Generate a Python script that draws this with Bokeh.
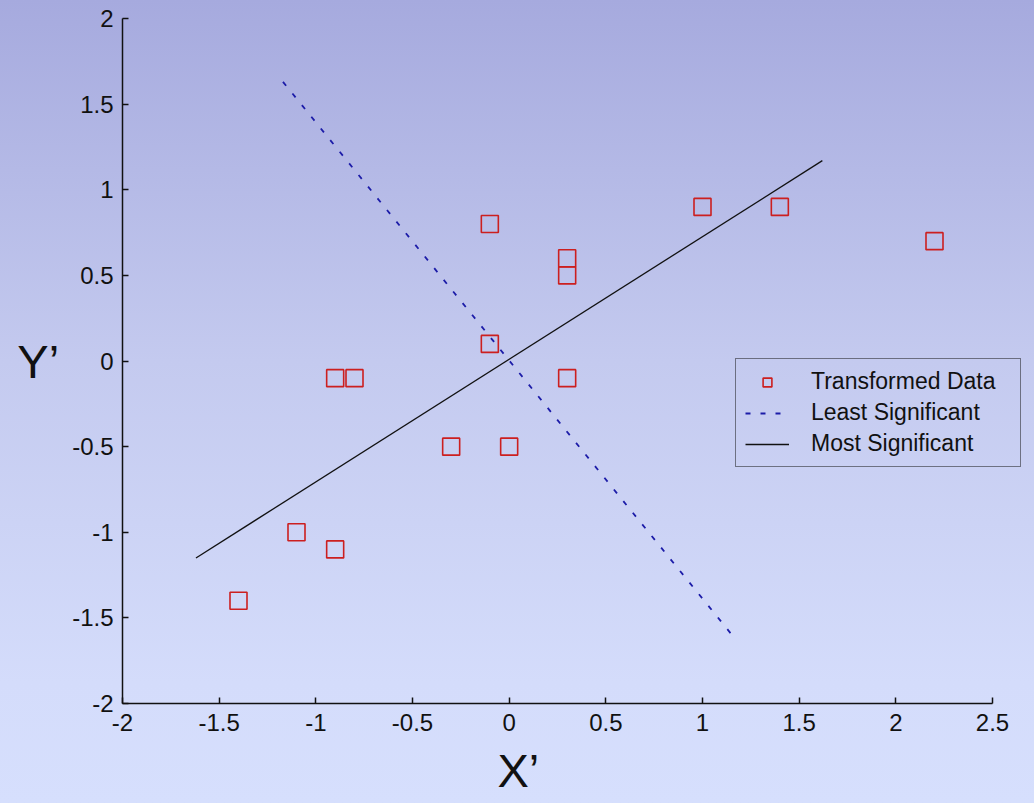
from bokeh.plotting import figure
from bokeh.models import ColumnDataSource, FixedTicker, Legend, LegendItem, Title
from bokeh.embed import file_html
from bokeh.resources import INLINE

# Transformed data points
data_x = [-1.4, -1.1, -0.9, -0.9, -0.8, -0.3, 0.0, -0.1, -0.1, 0.3, 0.3, 0.3, 1.0, 1.4, 2.2]
data_y = [-1.4, -1.0, -1.1, -0.1, -0.1, -0.5, -0.5, 0.1, 0.8, 0.6, 0.5, -0.1, 0.9, 0.9, 0.7]

# Principal directions
most_x = [-1.62, 1.62]
most_y = [-1.15, 1.17]
least_x = [-1.17, 1.16]
least_y = [1.63, -1.61]

# Axis ticks
x_ticks = [-2, -1.5, -1, -0.5, 0, 0.5, 1, 1.5, 2, 2.5]
x_tick_labels = ["-2", "-1.5", "-1", "-0.5", "0", "0.5", "1", "1.5", "2", "2.5"]
y_ticks = [-2, -1.5, -1, -0.5, 0, 0.5, 1, 1.5, 2]
y_tick_labels = ["-2", "-1.5", "-1", "-0.5", "0", "0.5", "1", "1.5", "2"]

FONT = "Liberation Sans"

# the x axis spans -2..2.5 over 870 px; the frame runs a little further right
# so that the legend box can sit past the end of the axis
px_per_unit = 870 / 4.5
frame_w = 912
x_end = -2 + frame_w / px_per_unit

p = figure(
    frame_width=frame_w, frame_height=685,
    min_border_left=122, min_border_right=0,
    min_border_top=18, min_border_bottom=100,
    x_range=(-2, x_end), y_range=(-2, 2),
    output_backend="svg", toolbar_location=None,
)
p.styles = {"background": "linear-gradient(to bottom, #a6aade 0%, #c4caef 45%, #d4dcfb 85%, #d6dffd 100%)"}
p.background_fill_alpha = 0
p.border_fill_alpha = 0
p.outline_line_color = None
p.grid.visible = False

for ax, ticks, labels in ((p.xaxis[0], x_ticks, x_tick_labels), (p.yaxis[0], y_ticks, y_tick_labels)):
    ax.ticker = FixedTicker(ticks=ticks)
    ax.major_label_overrides = {t: l for t, l in zip(ticks, labels)}
    ax.major_tick_in = 6
    ax.major_tick_out = 0
    ax.minor_tick_line_color = None
    ax.axis_line_color = "#111111"
    ax.axis_line_width = 1.5
    ax.major_tick_line_color = "#111111"
    ax.major_tick_line_width = 1.5
    ax.major_label_text_font = FONT
    ax.major_label_text_font_size = "24px"
    ax.major_label_text_color = "#111111"
p.xaxis.bounds = (-2, 2.5)
p.xaxis.major_label_standoff = 10
p.yaxis.major_label_standoff = 9

yax = p.yaxis[0]
yax.axis_label = "Y\u2019"
yax.axis_label_orientation = "horizontal"
yax.axis_label_standoff = 10
yax.axis_label_text_font = FONT
yax.axis_label_text_font_size = "47px"
yax.axis_label_text_font_style = "normal"
yax.axis_label_text_color = "#111111"

# x label sits under the middle of the axis (not the wider frame)
p.add_layout(Title(text="X\u2019", align="left", offset=375, standoff=16,
                   text_font=FONT, text_font_size="47px", text_font_style="normal",
                   text_color="#111111"), "below")

src = ColumnDataSource(dict(x=data_x, y=data_y))
r_pts = p.scatter("x", "y", source=src, marker="square", size=17,
                  fill_color=None, line_color="#cc1f1f", line_width=1.6)
r_least = p.line(least_x, least_y, line_color="#1c1ca8", line_width=1.8, line_dash="5 10")
r_most = p.line(most_x, most_y, line_color="#111111", line_width=1.3)

legend = Legend(
    items=[LegendItem(label="Transformed Data", renderers=[r_pts]),
           LegendItem(label="Least Significant", renderers=[r_least]),
           LegendItem(label="Most Significant", renderers=[r_most])],
    location=(613, 236),
    background_fill_alpha=0,
    border_line_color="#111111", border_line_width=1.3,
    label_text_font=FONT, label_text_font_size="23px", label_text_color="#111111",
    glyph_width=44, glyph_height=22, label_height=22, label_width=200,
    label_standoff=22, padding=9, spacing=4, margin=0,
)
p.add_layout(legend, "center")

open("out.html", "w").write(file_html(p, INLINE))
